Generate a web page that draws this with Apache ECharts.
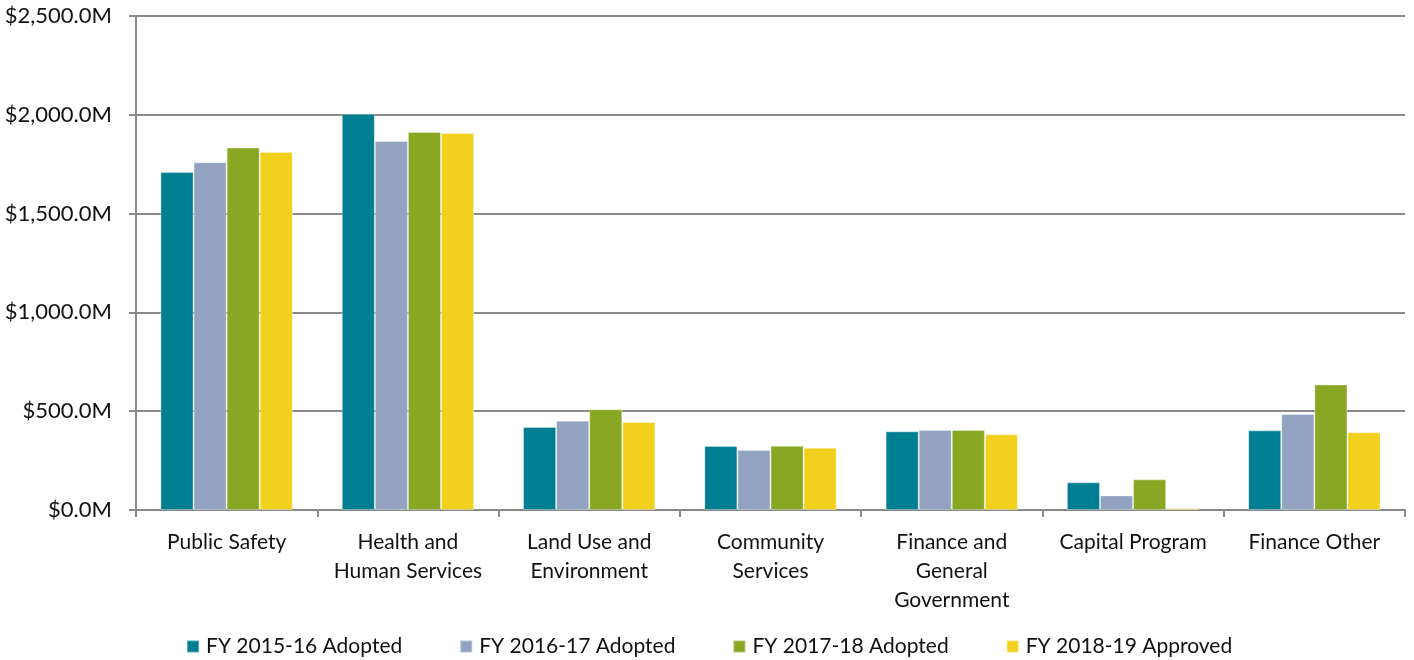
<!DOCTYPE html>
<html>
<head>
<meta charset="utf-8">
<title>Budget by Group</title>
<script src="https://cdn.jsdelivr.net/npm/echarts@6/dist/echarts.min.js"></script>
<style>
  html, body { margin: 0; padding: 0; background: #ffffff; }
  #chart { width: 1414px; height: 660px; }
</style>
</head>
<body>
<div id="chart"></div>
<script>
// Categories (groups) and appropriations in millions of dollars
const categories = [
  'Public Safety',
  'Health and\nHuman Services',
  'Land Use and\nEnvironment',
  'Community\nServices',
  'Finance and\nGeneral\nGovernment',
  'Capital Program',
  'Finance Other'
];
const seriesNames = ['FY 2015-16 Adopted', 'FY 2016-17 Adopted', 'FY 2017-18 Adopted', 'FY 2018-19 Approved'];
const fy1516 = [1710, 2005, 420, 324, 398, 140, 403];
const fy1617 = [1760, 1867, 452, 304, 405, 74, 486];
const fy1718 = [1835, 1913, 510, 325, 405, 155, 635];
const fy1819 = [1812, 1908, 445, 315, 383, 9, 393];
const colors = ['#007e91', '#91a3c1', '#88a722', '#f2d11e'];

const font = 'Lato, "Open Sans", sans-serif';
const values = [fy1516, fy1617, fy1718, fy1819];

const chart = echarts.init(document.getElementById('chart'), null, { renderer: 'canvas' });
chart.setOption({
  animation: false,
  textStyle: { fontFamily: font },
  color: colors,
  grid: { left: 136, right: 9, top: 16, bottom: 150, containLabel: false },
  legend: {
    top: 631,
    left: 181,
    itemWidth: 12,
    itemHeight: 12,
    itemGap: 57,
    icon: 'rect',
    textStyle: { fontFamily: font, fontSize: 21, color: '#111111', padding: [0, 0, 0, 2] },
    data: seriesNames
  },
  xAxis: {
    type: 'category',
    data: categories,
    axisLine: { lineStyle: { color: '#8a8a8a', width: 2 } },
    axisTick: { show: true, length: 7, lineStyle: { color: '#8a8a8a', width: 2 } },
    axisLabel: { fontFamily: font, fontSize: 21, color: '#111111', lineHeight: 29, margin: 18, interval: 0 }
  },
  yAxis: {
    type: 'value',
    min: 0,
    max: 2500,
    interval: 500,
    axisLine: { show: true, lineStyle: { color: '#8a8a8a', width: 2 } },
    axisTick: { show: true, length: 7, lineStyle: { color: '#8a8a8a', width: 2 } },
    splitLine: { lineStyle: { color: '#8a8a8a', width: 2 } },
    axisLabel: {
      fontFamily: font, fontSize: 22, color: '#111111', margin: 24,
      formatter: v => '$' + v.toLocaleString('en-US', { minimumFractionDigits: 1, maximumFractionDigits: 1 }) + 'M'
    }
  },
  series: seriesNames.map((name, i) => ({
    name: name,
    type: 'bar',
    data: values[i],
    barGap: '0%',
    barCategoryGap: '27%',
    itemStyle: { color: colors[i], borderColor: 'rgba(255,255,255,0.35)', borderWidth: 1 }
  }))
});
</script>
</body>
</html>
